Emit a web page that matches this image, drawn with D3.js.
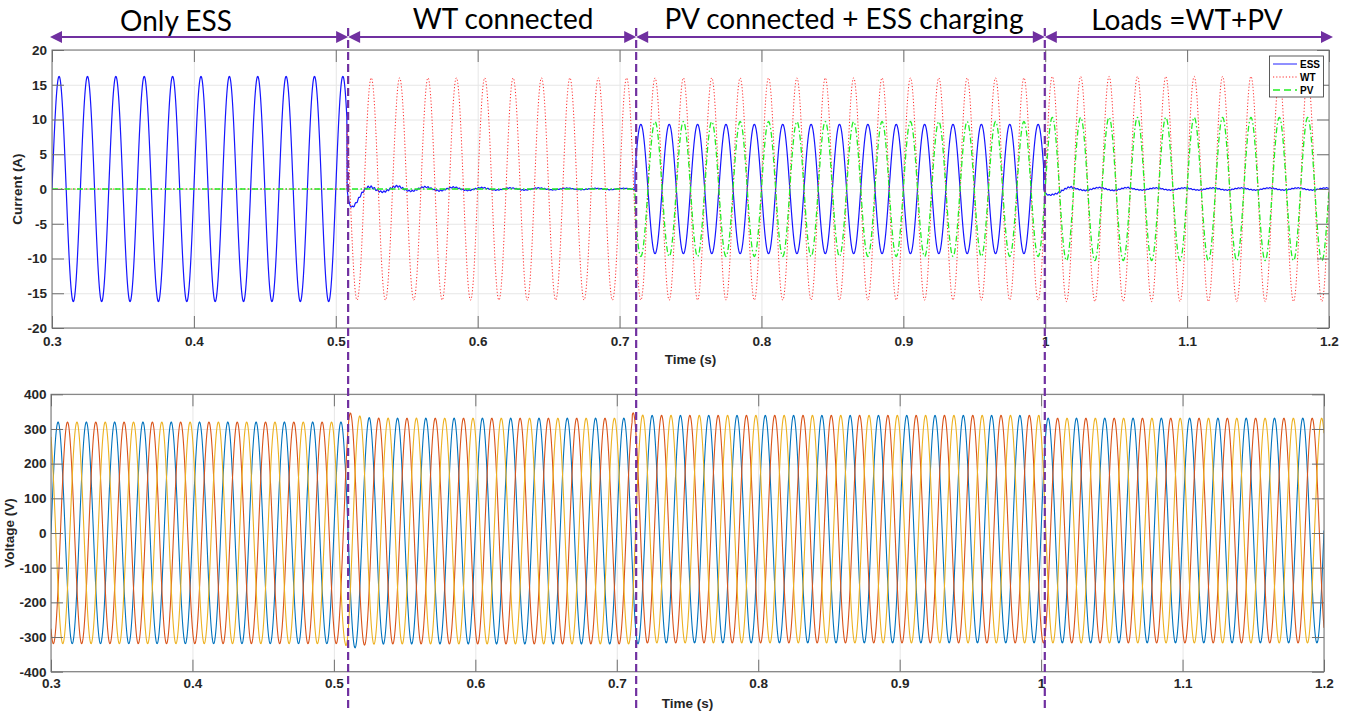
<!DOCTYPE html>
<html>
<head>
<meta charset="utf-8">
<script src="https://cdn.jsdelivr.net/npm/d3@7"></script>
<style>
  body { margin: 0; background: #fff; }
  svg { display: block; font-family: "Liberation Sans", Arial, sans-serif; }
  .axis text { font: bold 13.5px "Liberation Sans", Arial, sans-serif; fill: #262626; }
  .title { font: bold 13.5px "Liberation Sans", Arial, sans-serif; fill: #262626; }
  .stage { font-family: Lato, "Open Sans", sans-serif; font-size: 28px; fill: #000; }
  .legend text { font: bold 10px "Liberation Sans", Arial, sans-serif; fill: #000; }
</style>
</head>
<body>
<svg id="chart" width="1348" height="712"></svg>
<script>
// time axis and the switching instants (s)
const timeRange = [0.3, 1.2];
const timeTicks = [0.3, 0.4, 0.5, 0.6, 0.7, 0.8, 0.9, 1, 1.1, 1.2];
const switchTimes = [0.508, 0.711, 0.999];
const stageLabels = ['Only ESS', 'WT connected', 'PV connected + ESS charging', 'Loads =WT+PV'];
const gridFreq = 50;

// current peaks per stage (A), negative = opposite phase (ESS charging)
const essAmp = [16.2, 0, -9.3, 0];
const wtAmp = [0, 16.0, 16.0, 16.2];
const pvAmp = [0, 0, 9.7, 10.3];

// what is left on the ESS after the hand-over: a dip, then a small 50 Hz ripple
const essDip = [0, -2.3, 0, -0.9];
const essRipplePeakAt = [0, 0.523, 0, 1.018];
const essRipple2 = [0.5, 0.4, 0.3, 0.25, 0.2, 0.15, 0.15, 0.12, 0.1, 0.1, 0.1];
const essRipple4 = [0.3, 0.2, 0.2, 0.15, 0.15, 0.15, 0.15, 0.15, 0.15, 0.15, 0.15];

// phase voltage peaks / troughs per stage (V) and overshoot at switching
const vPeak = [320, 331, 339, 331];
const vTrough = [-319, -320, -317, -317];
const vKick = [0, 15, 9, 0];
const vKickRise = [0, 0.0035, 0, 0];
const phaseNames = ['Va', 'Vb', 'Vc'];

const currentTicks = [-20, -15, -10, -5, 0, 5, 10, 15, 20];
const voltageTicks = [-400, -300, -200, -100, 0, 100, 200, 300, 400];

// layout
const svg = d3.select('#chart');
const topBox = { left: 52, right: 1329, top: 50, bottom: 328 };
const botBox = { left: 51, right: 1324, top: 394.3, bottom: 671.7 };
const stageTextX = [176, 503, 844, 1187];
const stageTextY = [31, 29, 28.5, 29.5];
const purple = '#7030A0';

const omega = 2 * Math.PI * gridFreq;
const phaseShift = [0, -2 * Math.PI / 3, 2 * Math.PI / 3];
const phaseColors = ['#0072BD', '#D95319', '#EDB120'];

const tSamples = d3.range(0, 4501).map(i => timeRange[0] + i * 0.0002);
const stageOf = t => d3.bisectRight(switchTimes, t);
const stageStart = k => (k === 0 ? timeRange[0] : switchTimes[k - 1]);

function essAt(t) {
  const k = stageOf(t);
  const u = t - stageStart(k);
  let v = essAmp[k] * Math.sin(omega * t);
  if (essDip[k]) {
    const s = u / 0.003;
    v += essDip[k] * s * Math.exp(1 - s);
    const rip = k === 1 ? essRipple2 : essRipple4;
    const a = rip[Math.min(rip.length - 1, Math.floor(u / 0.02))];
    v += a * (1 - Math.exp(-u / 0.003)) *
      (Math.cos(omega * (t - essRipplePeakAt[k])) + 0.3 * Math.sin(9 * omega * t));
  }
  return v;
}
const wtAt = t => wtAmp[stageOf(t)] * Math.sin(omega * t);
const pvAt = t => pvAmp[stageOf(t)] * Math.sin(omega * t);

function phaseAt(t, p) {
  const k = stageOf(t);
  const u = t - stageStart(k);
  const mid = (vPeak[k] + vTrough[k]) / 2;
  let kick = 0;
  if (vKick[k]) {
    if (vKickRise[k]) {
      const s = u / vKickRise[k];
      kick = vKick[k] * s * Math.exp(1 - s);
    } else {
      kick = vKick[k] * Math.exp(-u / 0.003);
    }
  }
  const amp = (vPeak[k] - vTrough[k]) / 2 + kick;
  return mid + amp * Math.sin(omega * t + phaseShift[p]);
}

function makePanel(box, yDomain, yTicks, yTitle, o) {
  const x = d3.scaleLinear().domain(timeRange).range([box.left, box.right]);
  const y = d3.scaleLinear().domain(yDomain).range([box.bottom, box.top]);
  const w = box.right - box.left;
  const h = box.bottom - box.top;
  const g = svg.append('g');

  g.append('rect').attr('x', box.left).attr('y', box.top).attr('width', w).attr('height', h).attr('fill', '#fff');

  // gridlines
  const gx = g.append('g').attr('transform', `translate(0,${box.bottom})`)
    .call(d3.axisBottom(x).tickValues(timeTicks).tickSize(-h).tickFormat(''));
  const gy = g.append('g').attr('transform', `translate(${box.left},0)`)
    .call(d3.axisLeft(y).tickValues(yTicks).tickSize(-w).tickFormat(''));
  [gx, gy].forEach(s => {
    s.select('.domain').remove();
    s.selectAll('line').attr('stroke', '#e6e6e6');
  });

  const id = 'clip' + Math.round(box.top);
  svg.append('clipPath').attr('id', id).append('rect')
    .attr('x', box.left).attr('y', box.top).attr('width', w).attr('height', h);
  const plot = g.append('g').attr('clip-path', `url(#${id})`);

  return { x, y, g, plot, box, yTicks, yTitle, o };
}

function finishPanel(P) {
  const { x, y, g, box, yTicks, yTitle, o } = P;
  const ax = g.append('g').attr('class', 'axis');
  ax.append('g').attr('transform', `translate(0,${box.bottom})`)
    .call(d3.axisBottom(x).tickValues(timeTicks).tickSizeInner(-12).tickSizeOuter(0)
      .tickPadding(o.xPad).tickFormat(d => d));
  ax.append('g').attr('transform', `translate(0,${box.top})`)
    .call(d3.axisTop(x).tickValues(timeTicks).tickSizeInner(-12).tickSizeOuter(0).tickFormat(''));
  ax.append('g').attr('transform', `translate(${box.left},0)`)
    .call(d3.axisLeft(y).tickValues(yTicks).tickSizeInner(-12).tickSizeOuter(0)
      .tickPadding(o.yPad).tickFormat(d => d));
  ax.append('g').attr('transform', `translate(${box.right},0)`)
    .call(d3.axisRight(y).tickValues(yTicks).tickSizeInner(-12).tickSizeOuter(0).tickFormat(''));
  ax.selectAll('.domain').remove();
  ax.selectAll('.tick line').attr('stroke', '#6f6f6f');
  ax.append('rect')
    .attr('x', box.left).attr('y', box.top)
    .attr('width', box.right - box.left).attr('height', box.bottom - box.top)
    .attr('fill', 'none').attr('stroke', '#6f6f6f').attr('stroke-width', 1);

  g.append('text').attr('class', 'title')
    .attr('x', (box.left + box.right) / 2).attr('y', box.bottom + 36)
    .attr('text-anchor', 'middle').text('Time (s)');
  g.append('text').attr('class', 'title')
    .attr('transform', `translate(${o.titleX},${(box.top + box.bottom) / 2}) rotate(-90)`)
    .attr('text-anchor', 'middle').text(yTitle);
}

// ---- current panel
const topP = makePanel(topBox, [-20, 20], currentTicks, 'Current (A)', { xPad: 8, yPad: 5, titleX: 22 });
const currentSeries = [
  { name: 'ESS', f: essAt, color: '#1515ff', width: 1.2, dash: null },
  { name: 'WT', f: wtAt, color: '#ff2a2a', width: 1, dash: '1.2,2' },
  { name: 'PV', f: pvAt, color: '#22ee22', width: 1.3, dash: '6,2.5,1.5,2.5' },
];
const lineTop = d3.line().x(d => topP.x(d[0])).y(d => topP.y(d[1]));
currentSeries.forEach(s => {
  topP.plot.append('path')
    .datum(tSamples.map(t => [t, s.f(t)]))
    .attr('d', lineTop)
    .attr('fill', 'none')
    .attr('stroke', s.color)
    .attr('stroke-width', s.width)
    .attr('stroke-dasharray', s.dash);
});
finishPanel(topP);

// legend
const lg = svg.append('g').attr('class', 'legend');
lg.append('rect').attr('x', 1269.5).attr('y', 56).attr('width', 54).attr('height', 41)
  .attr('fill', '#fff').attr('stroke', '#333').attr('stroke-width', 0.8);
currentSeries.forEach((s, i) => {
  const yy = 64 + i * 13;
  lg.append('line').attr('x1', 1273).attr('x2', 1297).attr('y1', yy).attr('y2', yy)
    .attr('stroke', s.color).attr('stroke-width', s.name === 'ESS' ? 1.6 : s.width)
    .attr('stroke-dasharray', s.name === 'PV' ? '7,4' : s.dash)
    .attr('stroke-opacity', s.name === 'ESS' ? 0.6 : 1);
  lg.append('text').attr('x', 1300).attr('y', yy + 3.6).text(s.name);
});

// ---- voltage panel
const botP = makePanel(botBox, [-400, 400], voltageTicks, 'Voltage (V)', { xPad: 7, yPad: 4.5, titleX: 14 });
const lineBot = d3.line().x(d => botP.x(d[0])).y(d => botP.y(d[1]));
phaseNames.forEach((name, p) => {
  botP.plot.append('path')
    .datum(tSamples.map(t => [t, phaseAt(t, p)]))
    .attr('d', lineBot)
    .attr('fill', 'none')
    .attr('stroke', phaseColors[p])
    .attr('stroke-width', 1.1);
});
finishPanel(botP);

// ---- stage annotations: dashed dividers, double arrows and labels
const divX = switchTimes.map(t => topP.x(t) + 1);
svg.append('g').selectAll('line').data(divX).join('line')
  .attr('x1', d => d).attr('x2', d => d)
  .attr('y1', 28).attr('y2', 712)
  .attr('stroke', purple).attr('stroke-width', 2.2).attr('stroke-dasharray', '8,4');

const edges = [topP.x(timeRange[0]) - 2, ...divX, topP.x(timeRange[1]) + 4];
const arrowY = 37;
const ag = svg.append('g');
stageLabels.forEach((label, i) => {
  const x0 = edges[i], x1 = edges[i + 1];
  ag.append('line').attr('x1', x0 + 8).attr('x2', x1 - 8).attr('y1', arrowY).attr('y2', arrowY)
    .attr('stroke', purple).attr('stroke-width', 2);
  ag.append('path')
    .attr('d', `M${x0},${arrowY}L${x0 + 12},${arrowY - 6}L${x0 + 12},${arrowY + 6}Z`)
    .attr('fill', purple);
  ag.append('path')
    .attr('d', `M${x1},${arrowY}L${x1 - 12},${arrowY - 6}L${x1 - 12},${arrowY + 6}Z`)
    .attr('fill', purple);
  ag.append('text').attr('class', 'stage')
    .attr('x', stageTextX[i]).attr('y', stageTextY[i])
    .attr('text-anchor', 'middle')
    .text(label);
});
</script>
</body>
</html>
